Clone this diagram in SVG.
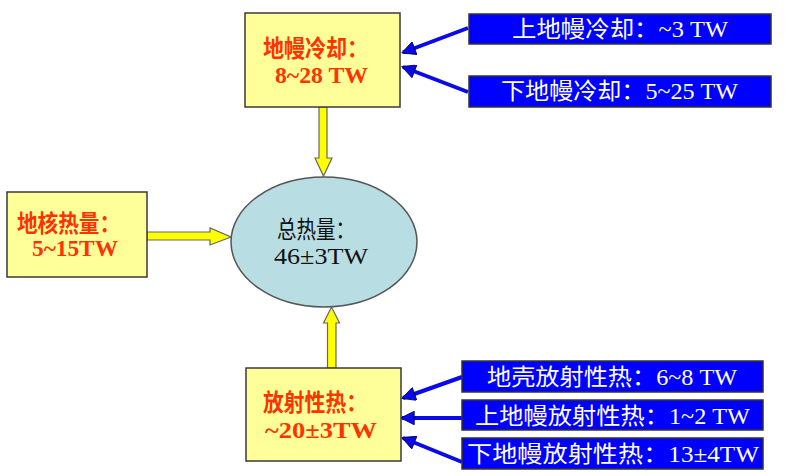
<svg xmlns="http://www.w3.org/2000/svg" width="788" height="476" viewBox="0 0 788 476">
<defs>
<style>
.ybox{fill:#ffff99;stroke:#3a3a3a;stroke-width:1.5}
.bbox{fill:#0000ff;stroke:#333;stroke-width:1.5}
.red{font-family:"Liberation Serif","Noto Sans CJK SC",serif;font-weight:bold;font-size:24px;fill:#ff3300}
.wt{font-family:"Liberation Serif","Noto Sans CJK SC",serif;font-size:23px;fill:#ffffff}
.bk{font-family:"Liberation Serif","Noto Sans CJK SC",serif;font-size:24px;fill:#111}
.yarr{fill:#ffff00;stroke:#666;stroke-width:1.2;stroke-linejoin:miter}
.barr{stroke:#0a0ae8;stroke-width:4;fill:none;marker-end:url(#bh)}
</style>
<marker id="bh" viewBox="0 0 10 10" refX="9" refY="5" markerWidth="5" markerHeight="3.4" orient="auto" markerUnits="strokeWidth">
<path d="M0,0 L10,5 L0,10 z" fill="#0a0ae8" stroke="#000060" stroke-width="0.6"/>
</marker>
</defs>

<g id="connectors">
<polygon class="yarr" points="319,107 327,107 327,158 332,158 323.5,176 315,158 319,158"/>
<polygon class="yarr" points="147,232 210,232 210,228 231,237 210,245 210,240 147,240"/>
<polygon class="yarr" points="327.5,368 336,368 336,323 339.5,323 331.5,307 323.5,323 327.5,323"/>
<line class="barr" x1="468" y1="28" x2="403" y2="52.5"/>
<line class="barr" x1="468" y1="92" x2="403" y2="67"/>
<line class="barr" x1="462" y1="377" x2="403" y2="398"/>
<line class="barr" x1="462" y1="418" x2="402" y2="418"/>
<line class="barr" x1="462" y1="462" x2="403" y2="438"/>
</g>

<g id="mantle-cooling">
<rect class="ybox" x="245" y="13" width="155" height="94"/>
<text class="red" x="263" y="57" textLength="105" lengthAdjust="spacingAndGlyphs">地幔冷却：</text>
<text class="red" x="275" y="83" textLength="93" lengthAdjust="spacingAndGlyphs">8~28 TW</text>
</g>

<g id="upper-mantle-cooling">
<rect class="bbox" x="469" y="14" width="302" height="30"/>
<text class="wt" x="512" y="37" textLength="216" lengthAdjust="spacingAndGlyphs">上地幔冷却：~3 TW</text>
</g>

<g id="lower-mantle-cooling">
<rect class="bbox" x="469" y="76" width="302" height="31"/>
<text class="wt" x="501" y="99" textLength="237" lengthAdjust="spacingAndGlyphs">下地幔冷却：5~25 TW</text>
</g>

<g id="core-heat">
<rect class="ybox" x="7" y="192" width="140" height="85"/>
<text class="red" x="17" y="232" textLength="103" lengthAdjust="spacingAndGlyphs">地核热量：</text>
<text class="red" x="32" y="256" textLength="86" lengthAdjust="spacingAndGlyphs">5~15TW</text>
</g>

<g id="total-heat">
<ellipse cx="324" cy="242" rx="93" ry="65" fill="#b8dde3" stroke="#555" stroke-width="1.5"/>
<text class="bk" x="277" y="238" textLength="78" lengthAdjust="spacingAndGlyphs">总热量：</text>
<text class="bk" x="274" y="264" textLength="94" lengthAdjust="spacingAndGlyphs">46±3TW</text>
</g>

<g id="radiogenic-heat">
<rect class="ybox" x="246" y="368" width="155" height="93"/>
<text class="red" x="263" y="411" textLength="104" lengthAdjust="spacingAndGlyphs">放射性热：</text>
<text class="red" x="265" y="438" textLength="112" lengthAdjust="spacingAndGlyphs">~20±3TW</text>
</g>

<g id="crust-radiogenic">
<rect class="bbox" x="462" y="361" width="301" height="31"/>
<text class="wt" x="487" y="385" textLength="250" lengthAdjust="spacingAndGlyphs">地壳放射性热：6~8 TW</text>
</g>

<g id="upper-mantle-radiogenic">
<rect class="bbox" x="462" y="400" width="301" height="30"/>
<text class="wt" x="475" y="424" textLength="275" lengthAdjust="spacingAndGlyphs">上地幔放射性热：1~2 TW</text>
</g>

<g id="lower-mantle-radiogenic">
<rect class="bbox" x="462" y="438" width="301" height="31"/>
<text class="wt" x="467" y="462" textLength="292" lengthAdjust="spacingAndGlyphs">下地幔放射性热：13±4TW</text>
</g>
</svg>
